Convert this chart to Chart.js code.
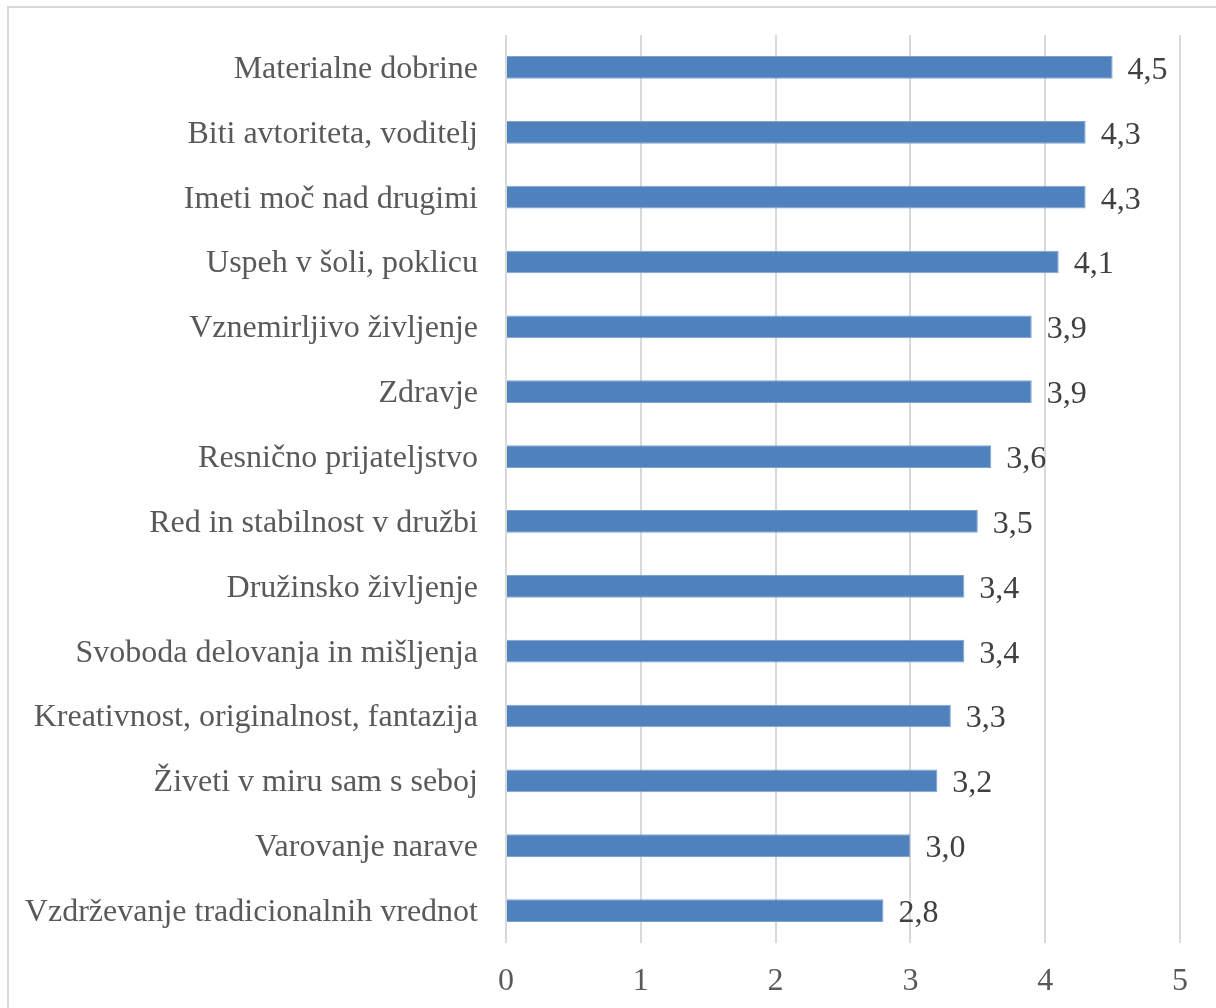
<!DOCTYPE html>
<html>
<head>
<meta charset="utf-8">
<script src="https://cdn.jsdelivr.net/npm/chart.js@4.4.1/dist/chart.umd.min.js"></script>
<style>
  html, body { margin: 0; padding: 0; background: #ffffff; }
  #wrap { position: relative; width: 1216px; height: 1008px; overflow: hidden; }
  #frame { position: absolute; left: 7px; top: 6px; width: 1300px; height: 1100px;
           border-left: 2px solid #d9d9d9; border-top: 2px solid #d9d9d9; pointer-events: none; }
  canvas { position: absolute; left: 0; top: 0; }
</style>
</head>
<body>
<div id="wrap">
  <canvas id="chart" width="1216" height="1008"></canvas>
  <div id="frame"></div>
</div>
<script>
const categories = [
  'Materialne dobrine',
  'Biti avtoriteta, voditelj',
  'Imeti moč nad drugimi',
  'Uspeh v šoli, poklicu',
  'Vznemirljivo življenje',
  'Zdravje',
  'Resnično prijateljstvo',
  'Red in stabilnost v družbi',
  'Družinsko življenje',
  'Svoboda delovanja in mišljenja',
  'Kreativnost, originalnost, fantazija',
  'Živeti v miru sam s seboj',
  'Varovanje narave',
  'Vzdrževanje tradicionalnih vrednot'
];
const values = [4.5, 4.3, 4.3, 4.1, 3.9, 3.9, 3.6, 3.5, 3.4, 3.4, 3.3, 3.2, 3.0, 2.8];
const xTicks = [0, 1, 2, 3, 4, 5];

const serif = '"Liberation Serif", "Times New Roman", serif';

// value labels at the end of each bar, with decimal comma
const valueLabels = {
  id: 'valueLabels',
  afterDatasetsDraw(chart) {
    const ctx = chart.ctx;
    const meta = chart.getDatasetMeta(0);
    ctx.save();
    ctx.font = '32px ' + serif;
    ctx.fillStyle = '#404040';
    ctx.textAlign = 'left';
    ctx.textBaseline = 'middle';
    meta.data.forEach((bar, i) => {
      ctx.fillText(values[i].toFixed(1).replace('.', ','), bar.x + 15, bar.y + 3);
    });
    ctx.restore();
  }
};

new Chart(document.getElementById('chart'), {
  type: 'bar',
  data: {
    labels: categories,
    datasets: [{
      data: values,
      backgroundColor: '#4f81bd',
      borderColor: '#7ea3d3',
      borderWidth: 1,
      categoryPercentage: 1,
      barPercentage: 0.35
    }]
  },
  options: {
    indexAxis: 'y',
    responsive: false,
    animation: false,
    layout: { padding: { left: 0, right: 36, top: 35, bottom: 0 } },
    plugins: { legend: { display: false }, tooltip: { enabled: false } },
    scales: {
      x: {
        min: 0,
        max: 5,
        afterBuildTicks(scale) { scale.ticks = xTicks.map(v => ({ value: v })); },
        afterFit(scale) { scale.height = 65; scale.paddingLeft = 0; scale.paddingRight = 0; },
        grid: { color: '#d9d9d9', lineWidth: 2, drawTicks: false },
        border: { display: false },
        ticks: { color: '#595959', font: { family: serif, size: 32 }, padding: 19 }
      },
      y: {
        afterFit(scale) { scale.width = 506; scale.paddingTop = 0; scale.paddingBottom = 0; },
        grid: { display: false, drawTicks: false },
        border: { display: false },
        ticks: { color: '#595959', font: { family: serif, size: 32 }, padding: 28, labelOffset: 2 }
      }
    }
  },
  plugins: [valueLabels]
});
</script>
</body>
</html>
